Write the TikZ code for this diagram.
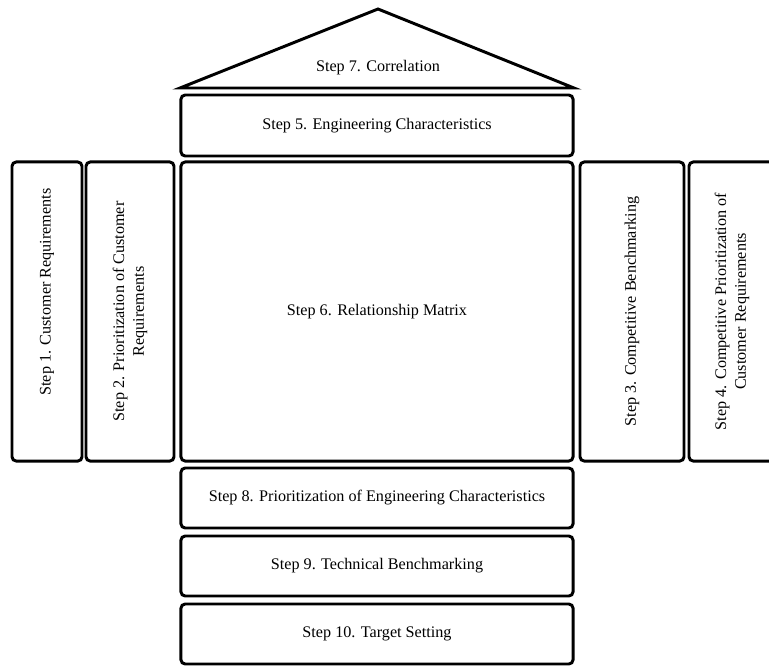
\documentclass[tikz,border=0pt]{standalone}
\usepackage{fontspec}
\setmainfont{Liberation Serif}

\begin{document}
\begin{tikzpicture}[x=0.025cm, y=-0.025cm,
	steptext/.style={inner sep=0pt, align=center, font=\fontsize{11.5}{14}\selectfont},
	stepbox/.style={steptext, draw=black, line width=2.1pt, rounded corners=3pt},
	widebox/.style={stepbox, minimum width=9.8cm, minimum height=1.5cm},
	tallbox/.style={stepbox, rotate=90, minimum width=7.475cm}]
	\useasboundingbox (0,0) rectangle (769,666);
	% roof
	\coordinate (apex) at (378,9);
	\coordinate (eaveL) at (180,88);
	\coordinate (eaveR) at (574,88);
	\draw[line width=2.1pt] (eaveL) -- (apex) -- (eaveR) -- cycle;
	\node[steptext] (s7) at (378,68) {Step 7. Correlation};
	% top and centre
	\node[widebox, minimum height=1.525cm] (s5) at (377,125.5) {Step 5. Engineering Characteristics};
	\node[stepbox, minimum width=9.8cm, minimum height=7.475cm] (s6) at (377,311.5) {Step 6. Relationship Matrix};
	% left wing
	\node[tallbox, minimum height=1.75cm] (s1) at (47,311.5) {};
	\node[steptext, rotate=90] (t1) at (47,292) {Step 1. Customer Requirements};
	\node[tallbox, minimum height=2.2cm] (s2) at (130,311.5) {Step 2. Prioritization of Customer\\Requirements};
	% right wing
	\node[tallbox, minimum height=2.6cm] (s3) at (632,311.5) {Step 3. Competitive Benchmarking};
	\node[tallbox, minimum height=2.15cm] (s4) at (732,311.5) {Step 4. Competitive Prioritization of\\Customer Requirements};
	% basement
	\node[widebox] (s8) at (377,498) {Step 8. Prioritization of Engineering Characteristics};
	\node[widebox] (s9) at (377,566) {Step 9. Technical Benchmarking};
	\node[widebox] (s10) at (377,634) {Step 10. Target Setting};
\end{tikzpicture}
\end{document}
